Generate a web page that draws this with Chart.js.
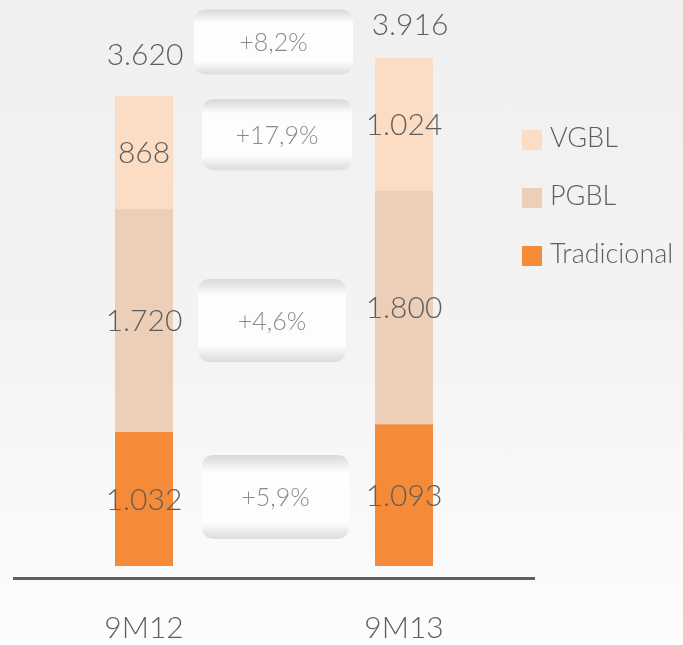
<!DOCTYPE html>
<html><head><meta charset="utf-8">
<script src="https://cdn.jsdelivr.net/npm/chart.js@4"></script>
<style>
html,body{margin:0;padding:0;}
body{width:683px;height:645px;background:linear-gradient(#f0f0f0,#f3f3f3 50%,#fdfdfd);overflow:hidden;}
canvas{display:block;}
</style></head><body>
<canvas id="c" width="683" height="645"></canvas>
<script>
// ---- data ----
const categories = ['9M12', '9M13'];
const seriesNames = ['Tradicional', 'PGBL', 'VGBL'];
const tradicional = [1032, 1093];
const pgbl = [1720, 1800];
const vgbl = [868, 1024];
const totals = [3620, 3916];
const growthTotal = '+8,2%';
const growthBySeries = ['+5,9%', '+4,6%', '+17,9%']; // Tradicional, PGBL, VGBL

// ---- style ----
const FONT = 'Lato, "Open Sans", sans-serif';
const colors = ['#F58A38', '#EDCEB8', '#FCDDC4'];
const textColor = '#5e5e5e';
const growthColor = '#8a8a8a';
const totalOffsetY = [41, 32];
const totalOffsetX = [1, 6];
// box sizes / nudges: index 0..2 = series, 3 = total
const boxStyle = [
  {w:147, h:84, dx:1.5, dy:0},
  {w:148, h:83, dx:-2, dy:6.5},
  {w:150, h:71, dx:3, dy:-3.5},
  {w:159, h:65, dx:-0.5, dy:1.5}
];

function fmt(v){ return String(v).replace(/\B(?=(\d{3})+(?!\d))/g, '.'); }

function roundRect(ctx, x, y, w, h, r){
  ctx.beginPath();
  ctx.moveTo(x+r, y);
  ctx.lineTo(x+w-r, y); ctx.quadraticCurveTo(x+w, y, x+w, y+r);
  ctx.lineTo(x+w, y+h-r); ctx.quadraticCurveTo(x+w, y+h, x+w-r, y+h);
  ctx.lineTo(x+r, y+h); ctx.quadraticCurveTo(x, y+h, x, y+h-r);
  ctx.lineTo(x, y+r); ctx.quadraticCurveTo(x, y, x+r, y);
  ctx.closePath();
}

function drawBox(ctx, cx, cy, st, text){
  const x = cx - st.w/2, y = cy - st.h/2;
  const g = ctx.createLinearGradient(0, y, 0, y + st.h);
  g.addColorStop(0, '#d8d8d8');
  g.addColorStop(0.2, '#fdfdfd');
  g.addColorStop(0.8, '#fdfdfd');
  g.addColorStop(1, '#dcdcdc');
  ctx.save();
  roundRect(ctx, x, y, st.w, st.h, 13);
  ctx.fillStyle = g;
  ctx.fill();
  ctx.fillStyle = growthColor;
  ctx.font = '300 25px ' + FONT;
  ctx.textAlign = 'center';
  ctx.textBaseline = 'middle';
  ctx.fillText(text, cx, cy + 1);
  ctx.restore();
}

const labelsPlugin = {
  id: 'labelsPlugin',
  afterDatasetsDraw(chart){
    const ctx = chart.ctx;
    const xs = chart.scales.x;
    ctx.save();
    ctx.textAlign = 'center';
    ctx.textBaseline = 'middle';
    ctx.fillStyle = textColor;
    ctx.font = '300 30px ' + FONT;
    const mids = [];
    chart.data.datasets.forEach((ds, d) => {
      const meta = chart.getDatasetMeta(d);
      mids[d] = [];
      meta.data.forEach((bar, i) => {
        const my = (bar.y + bar.base) / 2;
        mids[d][i] = my;
        ctx.fillText(fmt(ds.data[i]), bar.x, my + 1);
      });
    });
    // totals
    const topMeta = chart.getDatasetMeta(chart.data.datasets.length - 1);
    const totY = [];
    topMeta.data.forEach((bar, i) => {
      const ty = bar.y - totalOffsetY[i];
      totY[i] = ty;
      ctx.fillText(fmt(totals[i]), bar.x + totalOffsetX[i], ty);
    });
    ctx.restore();
    // growth boxes
    const cx = (xs.getPixelForValue(0) + xs.getPixelForValue(1)) / 2;
    growthBySeries.forEach((t, d) => {
      const st = boxStyle[d];
      drawBox(ctx, cx + st.dx, (mids[d][0] + mids[d][1]) / 2 + st.dy, st, t);
    });
    const st = boxStyle[3];
    drawBox(ctx, cx + st.dx, (totY[0] + totY[1]) / 2 + st.dy, st, growthTotal);
    // legend (top = last dataset)
    ctx.save();
    const lx = chart.chartArea.right - 12;
    const ly0 = 140, lstep = 58;
    ctx.font = '300 27px ' + FONT;
    ctx.textAlign = 'left';
    ctx.textBaseline = 'middle';
    const n = chart.data.datasets.length;
    for (let k = 0; k < n; k++) {
      const ds = chart.data.datasets[n - 1 - k];
      const y = ly0 + k * lstep;
      ctx.fillStyle = ds.backgroundColor;
      ctx.fillRect(lx, y - 10, 20, 20);
      ctx.fillStyle = textColor;
      ctx.fillText(ds.label, lx + 28, y - 2);
    }
    ctx.restore();
  }
};

new Chart(document.getElementById('c'), {
  type: 'bar',
  data: {
    labels: categories,
    datasets: [
      {label: seriesNames[0], data: tradicional, backgroundColor: colors[0]},
      {label: seriesNames[1], data: pgbl, backgroundColor: colors[1]},
      {label: seriesNames[2], data: vgbl, backgroundColor: colors[2]}
    ]
  },
  options: {
    responsive: false,
    devicePixelRatio: 1,
    animation: false,
    barPercentage: 0.223,
    categoryPercentage: 1,
    layout: {padding: {left: 14, right: 149, top: 8, bottom: 0}},
    plugins: {legend: {display: false}, tooltip: {enabled: false}},
    scales: {
      x: {
        stacked: true,
        grid: {display: false, drawTicks: false},
        border: {display: true, color: '#5f5f5f', width: 3},
        ticks: {color: textColor, font: {family: FONT, size: 30, weight: 300}, padding: 32},
        afterFit(scale){ scale.height = 66.5; }
      },
      y: {
        stacked: true,
        display: false,
        min: -96,
        max: 4300
      }
    }
  },
  plugins: [labelsPlugin]
});
</script>
</body></html>
